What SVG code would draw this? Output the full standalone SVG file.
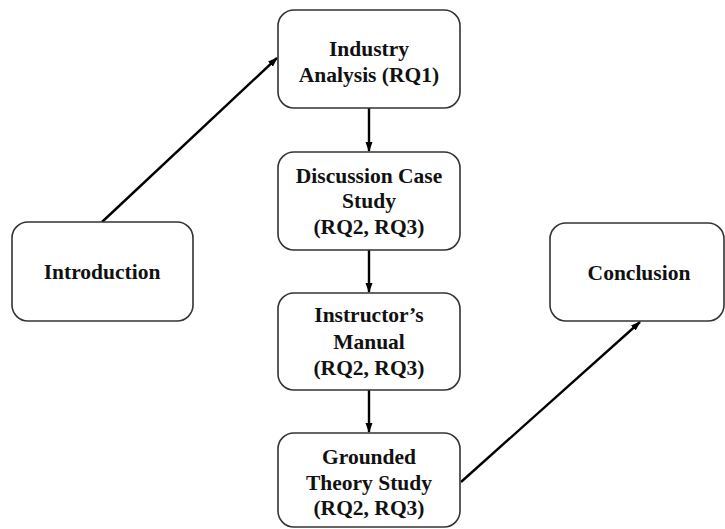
<svg xmlns="http://www.w3.org/2000/svg" width="725" height="529" viewBox="0 0 725 529">
<defs>
<marker id="ah" markerWidth="10" markerHeight="10" refX="9" refY="5" orient="auto" markerUnits="userSpaceOnUse">
<path d="M0,1.5 L10,5 L0,8.5 Z" fill="#000"/>
</marker>
<style>
.box{fill:#fff;stroke:#333;stroke-width:1.6}
.t{font-family:"Liberation Serif","Times New Roman",serif;font-weight:bold;font-size:21.5px;fill:#111;text-anchor:middle}
.c{stroke:#000;stroke-width:2.4;fill:none}
</style>
</defs>
<rect width="725" height="529" fill="#fff"/>
<g id="connectors">
<line class="c" x1="102" y1="222" x2="277" y2="58" marker-end="url(#ah)"/>
<line class="c" x1="369" y1="108" x2="369" y2="151" marker-end="url(#ah)"/>
<line class="c" x1="369" y1="250" x2="369" y2="292" marker-end="url(#ah)"/>
<line class="c" x1="369" y1="390" x2="369" y2="432" marker-end="url(#ah)"/>
<line class="c" x1="461" y1="482" x2="640" y2="322" marker-end="url(#ah)"/>
</g>
<g id="intro">
<rect class="box" x="12" y="222" width="181" height="99" rx="16"/>
<text class="t" x="102" y="279">Introduction</text>
</g>
<g id="industry">
<rect class="box" x="278" y="10" width="182" height="98" rx="16"/>
<text class="t" x="369" y="56">Industry</text>
<text class="t" x="369" y="82">Analysis (RQ1)</text>
</g>
<g id="discussion">
<rect class="box" x="278" y="152" width="182" height="98" rx="16"/>
<text class="t" x="369" y="183">Discussion Case</text>
<text class="t" x="369" y="208">Study</text>
<text class="t" x="369" y="234">(RQ2, RQ3)</text>
</g>
<g id="manual">
<rect class="box" x="278" y="293" width="182" height="97" rx="16"/>
<text class="t" x="369" y="322">Instructor’s</text>
<text class="t" x="369" y="349">Manual</text>
<text class="t" x="369" y="375">(RQ2, RQ3)</text>
</g>
<g id="grounded">
<rect class="box" x="278" y="433" width="182" height="94" rx="16"/>
<text class="t" x="369" y="464">Grounded</text>
<text class="t" x="369" y="490">Theory Study</text>
<text class="t" x="369" y="515">(RQ2, RQ3)</text>
</g>
<g id="conclusion">
<rect class="box" x="550" y="223" width="174" height="98" rx="16"/>
<text class="t" x="639" y="280">Conclusion</text>
</g>
</svg>
